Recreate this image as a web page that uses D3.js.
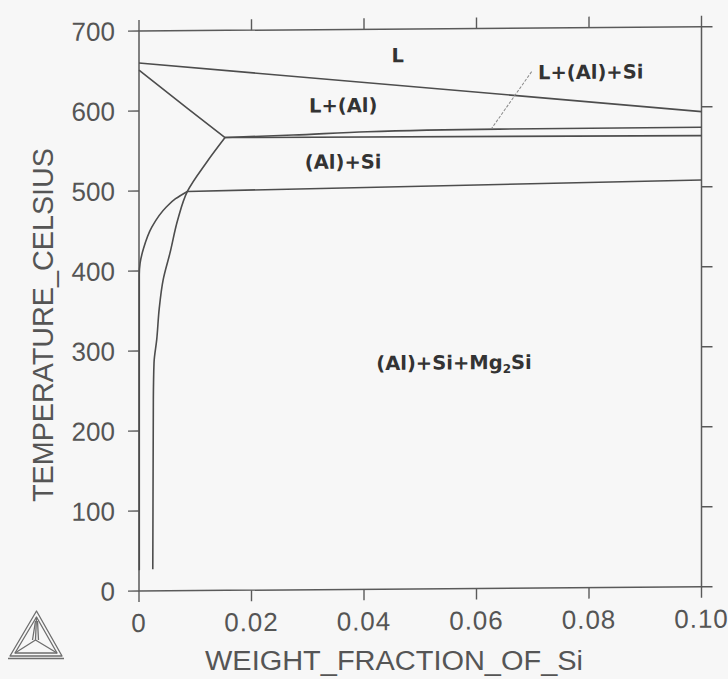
<!DOCTYPE html>
<html>
<head>
<meta charset="utf-8">
<script src="https://cdn.jsdelivr.net/npm/d3@7"></script>
<style>
  html, body { margin: 0; padding: 0; background: #f7f7f7; }
  svg { display: block; }
</style>
</head>
<body>
<svg id="chart" width="728" height="679"></svg>
<script>
// Al-Si-Mg isopleth: temperature vs weight fraction of Si

const xTicks = [0, 0.02, 0.04, 0.06, 0.08, 0.10];
const xTickLabels = ["0", "0.02", "0.04", "0.06", "0.08", "0.10"];
const yTicks = [0, 100, 200, 300, 400, 500, 600, 700];
const yTickLabels = ["0", "100", "200", "300", "400", "500", "600", "700"];

// L / L+(Al) boundary
const liquidusSi = [0, 0.1];
const liquidusT = [660, 594];

// L+(Al) / (Al) boundary toward the ternary point
const alLiqSi = [0, 0.0085, 0.0153];
const alLiqT = [651, 603.4, 566];

// upper edge of L+(Al)+Si
const upperSi = [0.0153, 0.0274, 0.0406, 0.064, 0.1];
const upperT = [566, 568.5, 572, 574, 574.5];

// lower edge of L+(Al)+Si
const lowerSi = [0.0153, 0.1];
const lowerT = [566, 564];

// (Al)+Si / (Al)+Si+Mg2Si boundary
const eutSi = [0.0086, 0.1];
const eutT = [499, 508.5];

// Si solvus
const solvusSi = [0.0153, 0.0120, 0.0086, 0.0069, 0.0055, 0.0043, 0.0036, 0.00315, 0.00267, 0.00255, 0.00245];
const solvusT = [566, 535, 499, 464, 422, 389, 353, 314, 285, 239, 27];

// Mg2Si solvus
const mgSolvusSi = [0.0086, 0.0065, 0.0049, 0.0023, 0.0008, 0.0002, 0.00005, 0.00005];
const mgSolvusT = [499, 490, 480, 455, 428, 410, 395, 26];

// region labels
const regionNames = ["L", "L+(Al)", "(Al)+Si", "L+(Al)+Si"];
const regionSi = [0.046, 0.0363, 0.0363, 0.0803];
const regionT = [667.5, 605.6, 535, 645];

// leader from the L+(Al)+Si label
const leaderSi = [0.0698, 0.0627];
const leaderT = [645.5, 575];

// three-phase label with subscript
const mgLabelSi = 0.056;
const mgLabelT = 283;

const svg = d3.select("#chart");
const W = 728, H = 679;
svg.append("rect").attr("width", W).attr("height", H).attr("fill", "#f7f7f7");

const x = d3.scaleLinear().domain([0, 0.1]).range([139, 701.5]);
const y = d3.scaleLinear().domain([0, 700]).range([591, 31]);

const axisColor = "#5a5a5a";
const lineColor = "#4d4d4d";

// slight shear of the plotted frame
const g = svg.append("g")
  .attr("transform", `translate(${x(0)},0) skewY(-0.43) translate(${-x(0)},0)`);

// frame
const [x0, x1] = x.range();
const [y0, y1] = y.range();
g.append("rect")
  .attr("x", x0).attr("y", y1)
  .attr("width", x1 - x0).attr("height", y0 - y1)
  .attr("fill", "none").attr("stroke", axisColor).attr("stroke-width", 1.5);

const tickLen = 11;
// left and right ticks
yTicks.forEach(t => {
  g.append("line").attr("x1", x0 - tickLen).attr("x2", x0).attr("y1", y(t)).attr("y2", y(t))
    .attr("stroke", axisColor).attr("stroke-width", 1.4);
  g.append("line").attr("x1", x1).attr("x2", x1 + tickLen).attr("y1", y(t)).attr("y2", y(t))
    .attr("stroke", axisColor).attr("stroke-width", 1.4);
});
// bottom and top ticks
xTicks.forEach(v => {
  g.append("line").attr("x1", x(v)).attr("x2", x(v)).attr("y1", y0).attr("y2", y0 + tickLen)
    .attr("stroke", axisColor).attr("stroke-width", 1.4);
  g.append("line").attr("x1", x(v)).attr("x2", x(v)).attr("y1", y1 - tickLen).attr("y2", y1)
    .attr("stroke", axisColor).attr("stroke-width", 1.4);
});

// tick labels
g.selectAll("text.ylab").data(yTicks).enter().append("text")
  .attr("class", "ylab")
  .attr("x", x0 - tickLen - 13)
  .attr("y", d => y(d) + 9.3)
  .attr("text-anchor", "end")
  .attr("font-family", "Liberation Sans, Arial, sans-serif")
  .attr("font-size", 26)
  .attr("fill", "#555")
  .text((d, i) => yTickLabels[i]);

g.selectAll("text.xlab").data(xTicks).enter().append("text")
  .attr("class", "xlab")
  .attr("x", d => x(d))
  .attr("y", 632)
  .attr("text-anchor", "middle")
  .attr("font-family", "Liberation Sans, Arial, sans-serif")
  .attr("font-size", 26)
  .attr("letter-spacing", 1)
  .attr("fill", "#555")
  .text((d, i) => xTickLabels[i]);

// phase boundaries
const zip = (a, b) => a.map((v, i) => [v, b[i]]);
const lin = d3.line().x(d => x(d[0])).y(d => y(d[1]));
const smoothY = d3.line().x(d => x(d[0])).y(d => y(d[1])).curve(d3.curveMonotoneY);
const smoothX = d3.line().x(d => x(d[0])).y(d => y(d[1])).curve(d3.curveMonotoneX);

const curves = [
  { pts: zip(liquidusSi, liquidusT), gen: lin },
  { pts: zip(alLiqSi, alLiqT), gen: lin },
  { pts: zip(upperSi, upperT), gen: smoothX },
  { pts: zip(lowerSi, lowerT), gen: lin },
  { pts: zip(eutSi, eutT), gen: lin },
  { pts: zip(solvusSi, solvusT), gen: smoothY },
  { pts: zip(mgSolvusSi, mgSolvusT), gen: smoothY }
];
curves.forEach(c => {
  g.append("path").attr("d", c.gen(c.pts))
    .attr("fill", "none").attr("stroke", lineColor).attr("stroke-width", 1.6)
    .attr("stroke-linejoin", "round");
});

// leader line
g.append("path").attr("d", lin(zip(leaderSi, leaderT)))
  .attr("fill", "none").attr("stroke", "#8a8a8a").attr("stroke-width", 1)
  .attr("stroke-dasharray", "3,1.5");

// region labels
const labelFont = "DejaVu Sans, Verdana, sans-serif";
regionNames.forEach((name, i) => {
  g.append("text")
    .attr("x", x(regionSi[i]))
    .attr("y", y(regionT[i]) + 7.2)
    .attr("text-anchor", "middle")
    .attr("font-family", labelFont)
    .attr("font-weight", "bold")
    .attr("font-size", 19.5)
    .attr("fill", "#333")
    .text(name);
});

const mg = g.append("text")
  .attr("x", x(mgLabelSi))
  .attr("y", y(mgLabelT) + 7.2)
  .attr("text-anchor", "middle")
  .attr("font-family", labelFont)
  .attr("font-weight", "bold")
  .attr("font-size", 19.5)
  .attr("fill", "#333");
mg.append("tspan").text("(Al)+Si+Mg");
mg.append("tspan").attr("font-size", 12).attr("dy", 4).text("2");
mg.append("tspan").attr("dy", -4).text("Si");

// axis titles
svg.append("text")
  .attr("x", 394).attr("y", 670)
  .attr("text-anchor", "middle")
  .attr("font-family", "Liberation Sans, Arial, sans-serif")
  .attr("font-size", 27)
  .attr("fill", "#555")
  .attr("textLength", 378)
  .attr("lengthAdjust", "spacingAndGlyphs")
  .text("WEIGHT_FRACTION_OF_Si");

svg.append("text")
  .attr("transform", "translate(53,325) rotate(-90)")
  .attr("text-anchor", "middle")
  .attr("font-family", "Liberation Sans, Arial, sans-serif")
  .attr("font-size", 29)
  .attr("fill", "#555")
  .attr("textLength", 354)
  .attr("lengthAdjust", "spacingAndGlyphs")
  .text("TEMPERATURE_CELSIUS");

// tetrahedron logo
const logo = svg.append("g").attr("fill", "none").attr("stroke", "#6e6e6e").attr("stroke-width", 1.3)
  .attr("stroke-linejoin", "round");
const apex = [36.5, 611], bl = [10, 656], br = [62, 656], ctr = [35.5, 640];
logo.append("path").attr("d", `M${apex}L${bl}L${br}Z`);
logo.append("path").attr("d", `M${apex[0]},${apex[1] + 6}L${bl[0] + 5},${bl[1] - 3}L${br[0] - 5},${br[1] - 3}Z`);
logo.append("path").attr("d", `M${ctr}L${apex[0]},${apex[1] + 6}M${ctr}L${bl[0] + 5},${bl[1] - 3}M${ctr}L${br[0] - 5},${br[1] - 3}`);
logo.append("path").attr("d", `M${ctr[0] - 3},${ctr[1]}L${apex[0] - 1},${apex[1] + 10}M${ctr[0] + 3},${ctr[1]}L${apex[0] + 1},${apex[1] + 10}`);
logo.append("line").attr("x1", 8).attr("x2", 64).attr("y1", 658.5).attr("y2", 658.5);
</script>
</body>
</html>
